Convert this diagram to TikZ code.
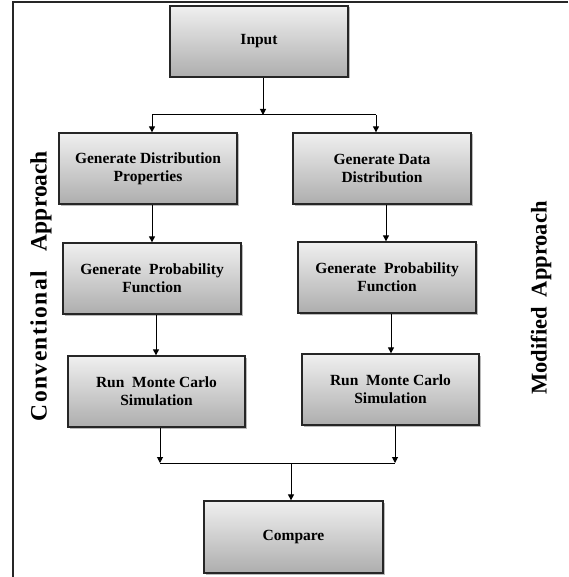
\documentclass[tikz,border=0pt]{standalone}
\usepackage{fontspec}
\setmainfont{Liberation Serif}
\usetikzlibrary{arrows.meta,shadows,calc}
\begin{document}
\begin{tikzpicture}[x=1pt,y=-1pt,
  box/.style={draw=black!85,line width=1.3pt,minimum width=178pt,minimum height=71pt,
    inner sep=2pt,align=center,top color=black!6,bottom color=black!32,
    drop shadow={shadow xshift=1.5pt,shadow yshift=-1.5pt,opacity=0.45,fill=black!60},
    font={\fontsize{15.5}{18}\selectfont\bfseries}},
  arr/.style={line width=1pt,-{Triangle[length=6pt,width=6pt]}},
  lin/.style={line width=1pt},
  side/.style={font={\fontsize{22.5}{26}\selectfont\bfseries},rotate=90,inner sep=0pt}]
\useasboundingbox (0,0) rectangle (568,577);
\draw[line width=2pt,black!85] (568,2) -- (13,2) -- (13,577);

\node[box] (in) at (259,41.5) {Input};
\node[box] (gdp) at (148,168.5) {Generate Distribution\\Properties};
\node[box] (gdd) at (382,168.5) {Generate Data\\Distribution};
\node[box] (pfl) at (152,278.5) {Generate\ \ Probability\\Function};
\node[box] (pfr) at (387,277.5) {Generate\ \ Probability\\Function};
\node[box,minimum width=177pt] (mcl) at (156.5,391.5) {Run\ \ Monte Carlo\\Simulation};
\node[box,minimum width=177pt] (mcr) at (390.5,389.5) {Run\ \ Monte Carlo\\Simulation};
\node[box,minimum width=179pt,minimum height=72pt] (cmp) at (293.5,537) {Compare};

\node[side,font={\fontsize{23.5}{26}\selectfont\bfseries}] (conv) at (41,286) {{\addfontfeature{LetterSpace=6}Conventional}\hspace{20pt}Approach};
\node[side] (mod) at (541,298) {Modified\hspace{10pt}Approach};

\coordinate (split) at (263,115);
\coordinate (sl) at (152,115);
\coordinate (sr) at (376,115);
\coordinate (merge) at (291,463);

\draw[arr] ([xshift=4pt]in.south) -- (split);
\draw[lin] (sl) -- (sr);
\draw[arr] (sl) -- (sl |- gdp.north);
\draw[arr] (sr) -- (sr |- gdd.north);

\draw[arr] ([xshift=4pt]gdp.south) -- ([xshift=4pt]gdp.south |- pfl.north);
\draw[arr] ([xshift=4pt]gdd.south) -- ([xshift=4pt]gdd.south |- pfr.north);
\draw[arr] ([xshift=4pt]pfl.south) -- ([xshift=4pt]pfl.south |- mcl.north);
\draw[arr] ([xshift=4pt]pfr.south) -- ([xshift=4pt]pfr.south |- mcr.north);

\draw[arr] ([xshift=3.5pt]mcl.south) -- ([xshift=3.5pt]mcl.south |- merge);
\draw[arr] ([xshift=4.5pt]mcr.south) -- ([xshift=4.5pt]mcr.south |- merge);
\draw[lin] ([xshift=3.5pt]mcl.south |- merge) -- ([xshift=4.5pt]mcr.south |- merge);
\draw[arr] (merge) -- (merge |- cmp.north);
\end{tikzpicture}
\end{document}
